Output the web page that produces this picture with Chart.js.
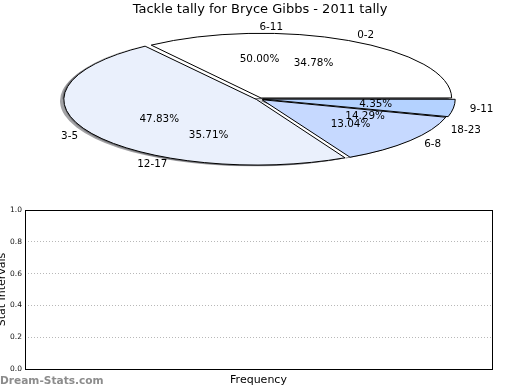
<!DOCTYPE html>
<html><head><meta charset="utf-8">
<script src="https://cdn.jsdelivr.net/npm/chart.js@4.4.1/dist/chart.umd.min.js"></script>
<style>
html,body{margin:0;padding:0;background:#fff;overflow:hidden}
#wrap{position:relative;width:520px;height:390px;background:#fff}
canvas{position:absolute;left:0}
</style></head><body>
<div id="wrap">
<canvas id="pieUnder" width="520" height="200" style="top:0"></canvas>
<canvas id="pieTop" width="520" height="200" style="top:0"></canvas>
<canvas id="bars" width="520" height="190" style="top:200px"></canvas>
</div>
<script>
// ---- data ----
const tallyCategories = ['0-2', '3-5', '6-8', '9-11'];
const tallyPercents = [34.78, 47.83, 13.04, 4.35];
const rangeCategories = ['6-11', '12-17', '18-23'];
const rangePercents = [50.00, 35.71, 14.29];
const freqCategories = [];
const freqValues = [];
const statTicks = [0.0, 0.2, 0.4, 0.6, 0.8, 1.0];
const chartTitle = 'Tackle tally for Bryce Gibbs - 2011 tally';
const yTitle = 'Stat Intervals';
const xTitle = 'Frequency';
const watermark = 'Dream-Stats.com';

// ---- style ----
const FONT = "'DejaVu Sans', sans-serif";
const CX = 259.5, CY = 99, RX = 190, RY = 64.5;   // ellipse the pie is squashed into
const SH_DX = -3.8, SH_DY = 1.3;                  // drop shadow offset
const tallyColors = ['#ffffff', '#eaf0fc', '#c6d9ff', '#b4d2ff'];

function geom(chart) {
  const meta = chart.getDatasetMeta(0);
  const el0 = meta.data[0];
  return { meta: meta, ex: el0.x, ey: el0.y, R: el0.outerRadius };
}
function applyEllipse(ctx, g) {
  ctx.translate(CX, CY);
  ctx.scale(RX / g.R, -RY / g.R);
  ctx.translate(-g.ex, -g.ey);
}
function toScreen(g, px, py) {
  return [CX + (px - g.ex) * RX / g.R, CY - (py - g.ey) * RY / g.R];
}
function arcPath(ctx, el) {
  const mid = (el.startAngle + el.endAngle) / 2;
  const d = (el.options.offset || 0) / 4;
  const circ = el.endAngle - el.startAngle;
  const fix = 1 - Math.sin(Math.min(Math.PI, circ));
  const x = el.x + Math.cos(mid) * d, y = el.y + Math.sin(mid) * d;
  ctx.moveTo(x, y);
  ctx.arc(x, y, el.outerRadius + d * fix, el.startAngle, el.endAngle);
  ctx.closePath();
}
function drawPieLabels(ctx, chart, labels, values) {
  const g = geom(chart);
  g.meta.data.forEach(function (el, i) {
    const mid = (el.startAngle + el.endAngle) / 2;
    const d = (el.options.offset || 0) / 4;
    const cx = el.x + Math.cos(mid) * d, cy = el.y + Math.sin(mid) * d;
    const L = toScreen(g, cx + Math.cos(mid) * g.R * 1.1, cy + Math.sin(mid) * g.R * 1.1);
    const P = toScreen(g, cx + Math.cos(mid) * g.R * 0.6, cy + Math.sin(mid) * g.R * 0.6);
    ctx.textAlign = Math.cos(mid) > 0 ? 'left' : 'right';
    ctx.fillText(labels[i], L[0], L[1]);
    ctx.textAlign = 'center';
    ctx.fillText(values[i].toFixed(2) + '%', P[0], P[1]);
  });
}

const ellipseTop = {
  id: 'ellipseTop',
  beforeDatasetsDraw(chart) {
    const ctx = chart.ctx, g = geom(chart), dpr = chart.currentDevicePixelRatio || 1;
    ctx.save();
    applyEllipse(ctx, g);
    const proto = CanvasRenderingContext2D.prototype.stroke;
    ctx.stroke = function () {
      this.save(); this.setTransform(dpr, 0, 0, dpr, 0, 0);
      proto.apply(this, arguments); this.restore();
    };
  },
  afterDatasetsDraw(chart) {
    const ctx = chart.ctx;
    delete ctx.stroke;
    ctx.restore();
  },
  afterDraw(chart) {
    const ctx = chart.ctx;
    ctx.save();
    ctx.fillStyle = '#000';
    ctx.font = '10.4px ' + FONT;
    ctx.textBaseline = 'middle';
    drawPieLabels(ctx, chart, tallyCategories, tallyPercents);
    if (window.pieUnderChart) drawPieLabels(ctx, window.pieUnderChart, rangeCategories, rangePercents);
    ctx.restore();
  }
};

const ellipseUnder = {
  id: 'ellipseUnder',
  beforeDatasetsDraw(chart) {
    const ctx = chart.ctx;
    [window.pieTopChart, chart].forEach(function (c) {
      if (!c) return;
      const g = geom(c);
      ctx.save();
      ctx.translate(SH_DX, SH_DY);
      applyEllipse(ctx, g);
      ctx.fillStyle = 'rgba(70,70,75,0.5)';
      g.meta.data.forEach(function (el) { ctx.beginPath(); arcPath(ctx, el); ctx.fill(); });
      ctx.restore();
    });
    ctx.save();
    applyEllipse(ctx, geom(chart));
  },
  afterDatasetsDraw(chart) { chart.ctx.restore(); }
};

window.pieTopChart = new Chart(document.getElementById('pieTop'), {
  type: 'pie',
  data: { labels: tallyCategories, datasets: [{ data: tallyPercents, backgroundColor: tallyColors,
    borderColor: '#000', borderWidth: 1, offset: 6, hoverOffset: 0, clip: false, borderJoinStyle: 'miter' }] },
  options: {
    responsive: false, animation: false, events: [], rotation: 90,
    plugins: {
      legend: { display: false }, tooltip: { enabled: false },
      title: { display: true, text: chartTitle, color: '#000',
        font: { family: FONT, size: 13, weight: 'normal' }, padding: { top: 1.4, bottom: 4 } }
    }
  },
  plugins: [ellipseTop]
});

window.pieUnderChart = new Chart(document.getElementById('pieUnder'), {
  type: 'pie',
  data: { labels: rangeCategories, datasets: [{ data: rangePercents, backgroundColor: '#ffffff',
    borderWidth: 0, offset: 6, hoverOffset: 0, clip: false }] },
  options: {
    responsive: false, animation: false, events: [], rotation: 90,
    layout: { padding: { top: 20 } },
    plugins: { legend: { display: false }, tooltip: { enabled: false } }
  },
  plugins: [ellipseUnder]
});
window.pieTopChart.draw();

const framePlugin = {
  id: 'frame',
  afterDraw(chart) {
    const ctx = chart.ctx, a = chart.chartArea;
    ctx.save();
    ctx.strokeStyle = '#000'; ctx.lineWidth = 1;
    ctx.strokeRect(a.left + 0.5, a.top + 0.5, a.right - a.left, a.bottom - a.top);
    ctx.fillStyle = '#8c8c8c';
    ctx.font = 'bold 10.6px ' + FONT;
    ctx.textAlign = 'left'; ctx.textBaseline = 'alphabetic';
    ctx.fillText(watermark, 0, 384.3 - 200);
    ctx.restore();
  }
};

new Chart(document.getElementById('bars'), {
  type: 'bar',
  data: { labels: freqCategories, datasets: [{ data: freqValues, backgroundColor: '#c6d9ff' }] },
  options: {
    responsive: false, animation: false, events: [],
    layout: { padding: { top: 10, right: 28, bottom: 0, left: 0 } },
    plugins: { legend: { display: false }, tooltip: { enabled: false } },
    scales: {
      x: {
        grid: { display: false, drawTicks: false }, border: { display: false }, ticks: { display: false },
        title: { display: true, text: xTitle, color: '#000', font: { family: FONT, size: 11 }, padding: { top: 0, bottom: 3.4 } },
        afterFit(s) { s.height = 21; }
      },
      y: {
        min: 0, max: 1,
        afterBuildTicks(s) { s.ticks = statTicks.map(function (v) { return { value: v }; }); },
        ticks: { color: '#111', font: { family: FONT, size: 7.5 }, padding: 3,
          callback: function (v) { return Number(v).toFixed(1); } },
        grid: { color: '#b8b8b8', lineWidth: 1, drawTicks: false },
        border: { display: false, dash: [1, 2] },
        title: { display: true, text: yTitle, color: '#000', font: { family: FONT, size: 11 }, padding: { top: -4, bottom: 0 } },
        afterFit(s) { s.width = 25; }
      }
    }
  },
  plugins: [framePlugin]
});
</script>
</body></html>
